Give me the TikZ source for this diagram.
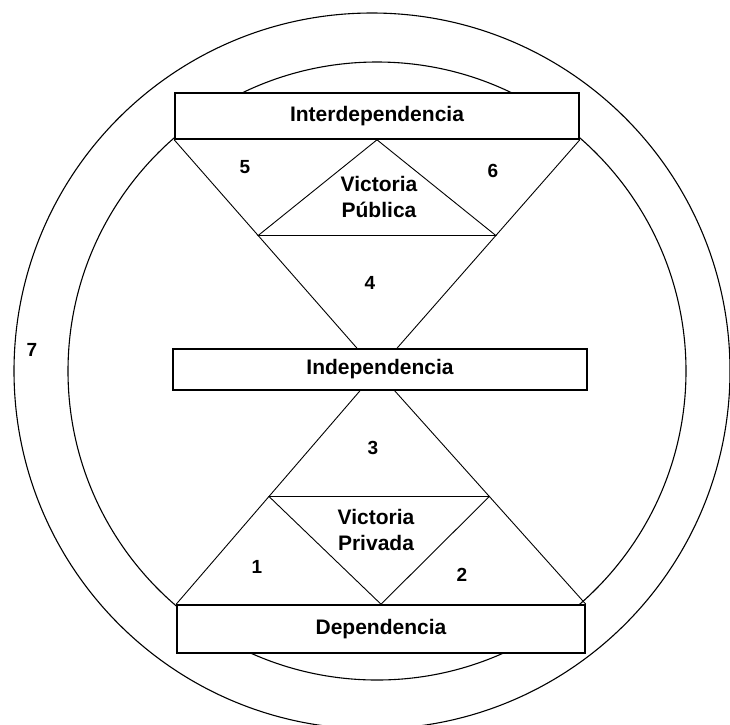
\documentclass[tikz,border=0pt]{standalone}
\usepackage{fontspec}
\setmainfont{Liberation Sans}
\usetikzlibrary{calc}
\begin{document}
\begin{tikzpicture}[x=1pt,y=-1pt,
    box/.style={draw,line width=1.6pt,fill=white,inner sep=0pt,minimum height=#1},
    lbl/.style={font=\fontsize{21}{26}\selectfont\bfseries,align=center},
    num/.style={font=\fontsize{19}{20}\selectfont\bfseries}]
\useasboundingbox (0,0) rectangle (730,724);
\clip (0,0) rectangle (730,724);
\coordinate (ctr) at (377,371);
\coordinate (octr) at (372,371);
\draw[line width=1.1pt] (octr) circle[radius=358pt];
\draw[line width=1.1pt] (ctr) circle[radius=309pt];
\node[box=46pt,minimum width=404pt,lbl] (inter) at (377,116) {Interdependencia};
\node[box=48pt,minimum width=408pt,lbl] (dep) at (381,629) {Dependencia};
% hourglass
\draw[line width=0.9pt] (inter.south west) -- (ctr) -- (dep.north east);
\draw[line width=0.9pt] (inter.south east) -- (ctr) -- (dep.north west);
\coordinate (pl) at ($(inter.south west)!0.414!(ctr)$);
\coordinate (pr) at ($(inter.south east)!0.414!(ctr)$);
\coordinate (ql) at ($(ctr)!0.538!(dep.north west)$);
\coordinate (qr) at ($(ctr)!0.538!(dep.north east)$);
\draw[line width=0.9pt] (pl) -- (inter.south) -- (pr) -- cycle;
\draw[line width=0.9pt] (ql) -- (dep.north) -- (qr) -- cycle;
\node[box=41pt,minimum width=414pt,lbl] (indep) at (380,369.5) {Independencia};
\node[lbl] (vpub) at (379,197) {Victoria\\Pública};
\node[lbl] (vpriv) at (376,530) {Victoria\\Privada};
\node[num] (n1) at (257,567) {1};
\node[num] (n2) at (462,575) {2};
\node[num] (n3) at (373,448) {3};
\node[num] (n4) at (370,283) {4};
\node[num] (n5) at (245,167) {5};
\node[num] (n6) at (493,171) {6};
\node[num] (n7) at (32,350) {7};
\end{tikzpicture}
\end{document}
